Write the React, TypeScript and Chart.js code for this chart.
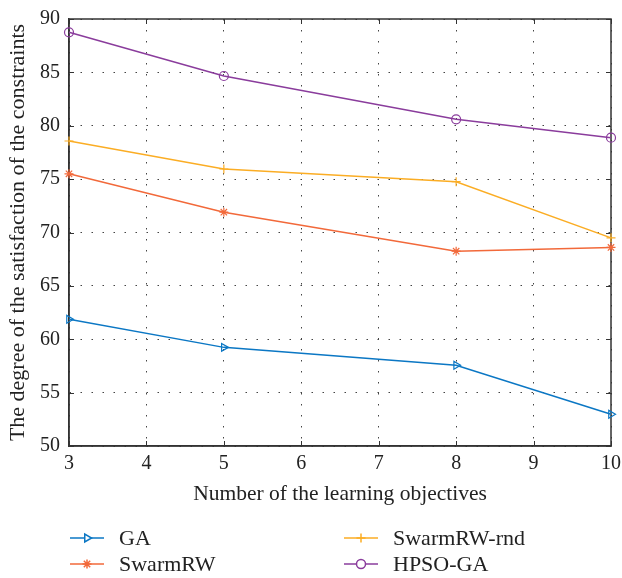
import React, { useEffect, useRef } from "react";
import { Chart, registerables } from "chart.js";
import { drawPoint } from "chart.js/helpers";

Chart.register(...registerables);

const xValues = [3, 5, 8, 10];
const gaValues = [61.87, 59.24, 57.56, 52.97];
const swarmRWValues = [75.5, 71.9, 68.25, 68.6];
const swarmRWRndValues = [78.57, 75.95, 74.76, 69.5];
const hpsoGAValues = [88.75, 84.66, 80.6, 78.88];

const seriesNames = ["GA", "SwarmRW", "SwarmRW-rnd", "HPSO-GA"];
const seriesColors = ["#0b77c4", "#f2693a", "#fbad24", "#8a3c9c"];
const seriesStyles = ["triangle", "star", "cross", "circle"];
const seriesRotation = [90, 0, 0, 0];

const xTitle = "Number of the learning objectives";
const yTitle = "The degree of the satisfaction of the constraints";

const FONT = "'Liberation Serif', 'Times New Roman', serif";
const AXIS_COLOR = "#333333";

const boxPlugin = {
  id: "boxPlugin",
  beforeDatasetsDraw(chart: any) {
    const { ctx, chartArea, scales } = chart;
    const { left, right, top, bottom } = chartArea;
    ctx.save();
    ctx.strokeStyle = AXIS_COLOR;
    ctx.lineWidth = 1.5;
    ctx.beginPath();
    ctx.moveTo(left, top);
    ctx.lineTo(right, top);
    ctx.lineTo(right, bottom);
    ctx.lineTo(left, bottom);
    ctx.closePath();
    ctx.stroke();
    ctx.lineWidth = 1;
    const tl = 5;
    ctx.beginPath();
    scales.x.ticks.forEach((t: any) => {
      const px = Math.round(scales.x.getPixelForValue(t.value)) + 0.5;
      ctx.moveTo(px, bottom);
      ctx.lineTo(px, bottom - tl);
      ctx.moveTo(px, top);
      ctx.lineTo(px, top + tl);
    });
    scales.y.ticks.forEach((t: any) => {
      const py = Math.round(scales.y.getPixelForValue(t.value)) + 0.5;
      ctx.moveTo(left, py);
      ctx.lineTo(left + tl, py);
      ctx.moveTo(right, py);
      ctx.lineTo(right - tl, py);
    });
    ctx.stroke();
    ctx.restore();
  },
};

const legendPlugin = {
  id: "legendPlugin",
  afterDraw(chart: any) {
    const { ctx } = chart;
    const cols = [70, 344];
    const rows = [538, 564];
    const order = [0, 1, 2, 3];
    ctx.save();
    order.forEach((i, k) => {
      const x = cols[Math.floor(k / 2)];
      const y = rows[k % 2];
      const color = seriesColors[i];
      ctx.strokeStyle = color;
      ctx.lineWidth = 1.5;
      ctx.beginPath();
      ctx.moveTo(x, y);
      ctx.lineTo(x + 34, y);
      ctx.stroke();
      ctx.fillStyle = "rgba(255,255,255,1)";
      drawPoint(
        ctx,
        {
          pointStyle: seriesStyles[i],
          rotation: seriesRotation[i],
          radius: 4.5,
          borderWidth: 1.2,
        } as any,
        x + 17,
        y
      );
      ctx.fillStyle = "#222222";
      ctx.font = `22px ${FONT}`;
      ctx.textBaseline = "middle";
      ctx.textAlign = "left";
      ctx.fillText(chart.data.datasets[i].label, x + 49, y + 1);
    });
    ctx.restore();
  },
};

export default function App() {
  const canvasRef = useRef<HTMLCanvasElement | null>(null);

  useEffect(() => {
    document.body.style.margin = "0";
    const canvas = canvasRef.current;
    if (!canvas) return;
    const allValues = [gaValues, swarmRWValues, swarmRWRndValues, hpsoGAValues];
    const chart = new Chart(canvas, {
      type: "line",
      data: {
        datasets: allValues.map((vals, i) => ({
          label: seriesNames[i],
          data: xValues.map((x, j) => ({ x, y: vals[j] })),
          borderColor: seriesColors[i],
          backgroundColor: "rgba(255,255,255,0)",
          pointBorderColor: seriesColors[i],
          pointBackgroundColor: "rgba(255,255,255,0)",
          pointStyle: seriesStyles[i] as any,
          pointRotation: seriesRotation[i],
          pointRadius: 4.5,
          pointBorderWidth: 1.2,
          borderWidth: 1.5,
          tension: 0,
          fill: false,
          clip: false as any,
        })),
      },
      options: {
        animation: false,
        responsive: false,
        devicePixelRatio: 1,
        layout: { padding: { left: 0, right: 11, top: 19, bottom: 68 } },
        plugins: {
          legend: { display: false },
          tooltip: { enabled: false },
        },
        scales: {
          x: {
            type: "linear",
            min: 3,
            max: 10,
            afterFit: (s: any) => {
              s.height = 64;
              s.paddingLeft = 0;
              s.paddingRight = 0;
            },
            ticks: {
              stepSize: 1,
              padding: 6,
              color: "#222222",
              font: { family: FONT, size: 20 },
            },
            grid: {
              color: "#444444",
              lineWidth: 1,
              drawTicks: false,
            },
            border: { display: true, color: AXIS_COLOR, width: 1.5, dash: [1.5, 9.5] },
            title: {
              display: true,
              text: xTitle,
              color: "#222222",
              font: { family: FONT, size: 21.5 },
              padding: { top: 0, bottom: 3 },
            },
          },
          y: {
            type: "linear",
            min: 50,
            max: 90,
            afterFit: (s: any) => {
              s.width = 69;
              s.paddingTop = 0;
              s.paddingBottom = 0;
            },
            ticks: {
              stepSize: 5,
              padding: 9,
              color: "#222222",
              font: { family: FONT, size: 20 },
            },
            grid: {
              color: "#444444",
              lineWidth: 1,
              drawTicks: false,
            },
            border: { display: true, color: AXIS_COLOR, width: 1.5, dash: [1.5, 9.5] },
            title: {
              display: true,
              text: yTitle,
              color: "#222222",
              font: { family: FONT, size: 22 },
              padding: { top: 5, bottom: 0 },
            },
          },
        },
      },
      plugins: [boxPlugin, legendPlugin],
    });
    return () => chart.destroy();
  }, []);

  return (
    <div style={{ width: 622, height: 578, background: "#ffffff" }}>
      <canvas ref={canvasRef} width={622} height={578} style={{ display: "block" }} />
    </div>
  );
}
